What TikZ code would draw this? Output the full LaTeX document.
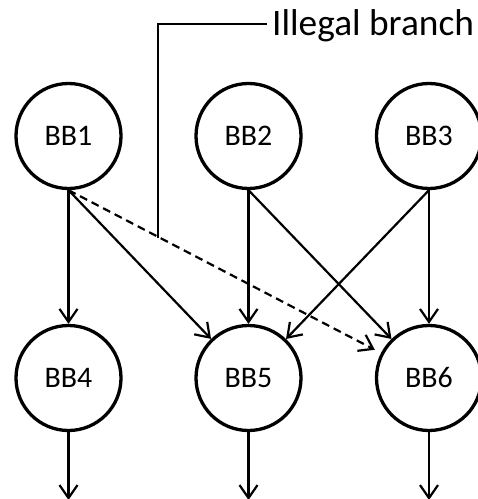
\documentclass[tikz,border=0pt]{standalone}
\usepackage{fontspec}
\setmainfont{Carlito}
\usetikzlibrary{arrows.meta}
\begin{document}
\begin{tikzpicture}[x=1bp,y=-1bp,
  bb/.style={circle,draw=black,line width=3.3bp,minimum size=105bp,inner sep=0pt,
    font=\fontsize{30}{30}\selectfont},
  edge/.style={line width=2.2bp,-{Straight Barb[length=13bp,width=18bp]}},
  illegal/.style={edge,dash pattern=on 8bp off 5bp,shorten >=7bp},
  callout/.style={line width=1.6bp}]
\useasboundingbox (0,0) rectangle (478,499);
\node[bb] (b1) at (68.5,136) {BB1};
\node[bb] (b2) at (248.5,136) {BB2};
\node[bb] (b3) at (429,136) {BB3};
\node[bb] (b4) at (68.5,378) {BB4};
\node[bb] (b5) at (248.5,378) {BB5};
\node[bb] (b6) at (429,378) {BB6};
\coordinate (o4) at (68.5,500);
\coordinate (o5) at (248.5,500);
\coordinate (o6) at (429,500);
\node[anchor=base west,inner sep=0pt,font=\fontsize{37.5}{40}\selectfont] (lbl) at (272,36) {Illegal branch};
\coordinate (ct) at (158,238);
\draw[edge] (b1.south) -- (b4.north);
\draw[edge] (b1.south) -- (b5);
\draw[illegal] (b1.south) -- (b6);
\draw[edge] (b2.south) -- (b5.north);
\draw[edge] (b2.south) -- (b6);
\draw[edge] (b3.south) -- (b5);
\draw[edge] (b3.south) -- (b6.north);
\draw[edge] (b4.south) -- (o4);
\draw[edge] (b5.south) -- (o5);
\draw[edge] (b6.south) -- (o6);
\draw[callout] ([shift={(-5bp,12bp)}]lbl.base west) -| (ct);
\end{tikzpicture}
\end{document}
